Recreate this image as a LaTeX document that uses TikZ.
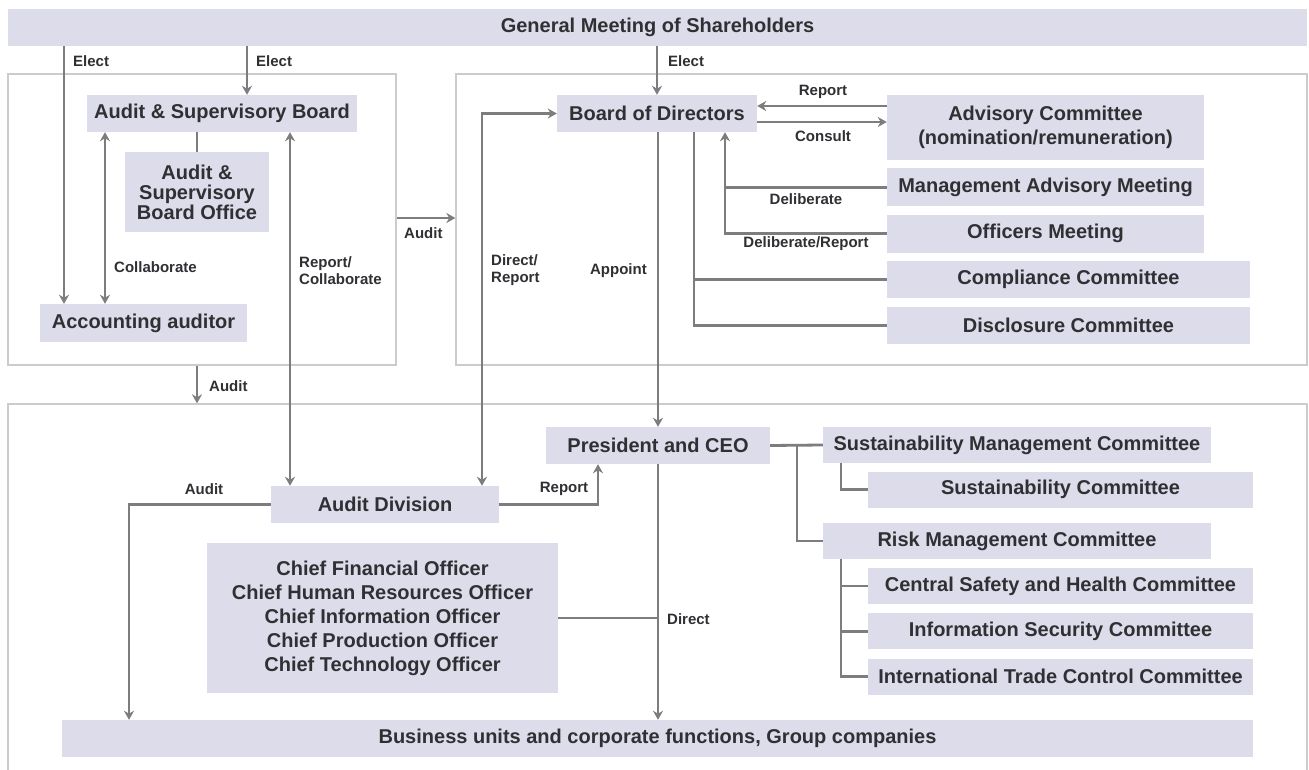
\documentclass[tikz,border=0pt]{standalone}
\usepackage{fontspec}
\setmainfont{Liberation Sans}
\usetikzlibrary{arrows.meta,positioning}

\definecolor{boxfill}{RGB}{221,220,234}
\definecolor{linegrey}{RGB}{125,125,125}
\definecolor{framegrey}{RGB}{204,204,204}
\definecolor{textgrey}{RGB}{48,48,52}

\begin{document}
\begin{tikzpicture}[
        x=1pt, y=-1pt,
        box/.style={rectangle, fill=boxfill, inner sep=0pt, align=center, text=textgrey, font=\fontsize{20}{24}\selectfont\bfseries},
        frame/.style={rectangle, draw=framegrey, line width=1.3pt, inner sep=0pt},
        lbl/.style={inner sep=0pt, align=left, text=textgrey, font=\fontsize{15}{17}\selectfont\bfseries},
        line/.style={draw=linegrey, line width=2.8pt},
        arrow/.style={line, -{Stealth[length=9pt,width=10pt]}},
        darrow/.style={line, {Stealth[length=9pt,width=10pt]}-{Stealth[length=9pt,width=10pt]}}
    ]
        \fill[white] (0,0) rectangle (1309,770);
        \useasboundingbox (0,0) rectangle (1309,770);

        % Frames
        \node[frame, minimum width=388, minimum height=291] (frL) at (202,219.5) {};
        \node[frame, minimum width=851, minimum height=291] (frR) at (881.5,219.5) {};
        \node[frame, minimum width=1299, minimum height=380] (frB) at (657.5,594) {};

        % Shareholders
        \node[box, minimum width=1299, minimum height=37] (gms) at (657.5,27.5) {General Meeting of Shareholders};

        % Audit side
        \node[box, minimum width=270, minimum height=37] (asb) at (222,113.5) {Audit \& Supervisory Board};
        \node[box, minimum width=144, minimum height=80, font=\fontsize{20}{20}\selectfont\bfseries] (off) at (197,192) {Audit \&\\Supervisory\\Board Office};
        \node[box, minimum width=207, minimum height=38] (acc) at (143.5,323) {Accounting auditor};

        % Board side
        \node[box, minimum width=200, minimum height=37] (bod) at (657,113.5) {Board of Directors};
        \node[box, minimum width=317, minimum height=65] (adv) at (1045.5,127.5) {Advisory Committee\\(nomination/remuneration)};
        \node[box, minimum width=317, minimum height=38, below=8pt of adv] (mam) {Management Advisory Meeting};
        \node[box, minimum width=317, minimum height=38, below=8pt of mam] (om) {Officers Meeting};
        \node[box, minimum width=363, minimum height=37, below right=8pt and 0pt of om.south west] (com) {Compliance Committee};
        \node[box, minimum width=363, minimum height=37, below=8pt of com] (dis) {Disclosure Committee};

        % Execution side
        \node[box, minimum width=224, minimum height=37] (pres) at (658,445.5) {President and CEO};
        \node[box, minimum width=228, minimum height=37] (ad) at (385,504.5) {Audit Division};
        \node[box, minimum width=351, minimum height=150] (chf) at (382.5,618) {Chief Financial Officer\\Chief Human Resources Officer\\Chief Information Officer\\Chief Production Officer\\Chief Technology Officer};
        \node[box, minimum width=1191, minimum height=37] (bu) at (657.5,738.5) {Business units and corporate functions, Group companies};

        \node[box, minimum width=388, minimum height=36] (smc) at (1017,445) {Sustainability Management Committee};
        \node[box, minimum width=385, minimum height=36] (sc) at (1060.5,489.5) {Sustainability Committee};
        \node[box, minimum width=388, minimum height=36] (rmc) at (1017,541) {Risk Management Committee};
        \node[box, minimum width=385, minimum height=36] (csh) at (1060.5,586) {Central Safety and Health Committee};
        \node[box, minimum width=385, minimum height=36, below=9pt of csh] (isc) {Information Security Committee};
        \node[box, minimum width=385, minimum height=36, below=9pt of isc] (itc) {International Trade Control Committee};

        % Helper coordinates
        \coordinate (eL) at (64,0);
        \coordinate (eM) at (247,0);
        \coordinate (cL) at (105,0);
        \coordinate (cR) at (290,0);
        \coordinate (aD) at (197,0);
        \coordinate (ya) at (0,218);
        \coordinate (yRep) at (0,106);
        \coordinate (yCon) at (0,122);
        \coordinate (xDel) at (725,0);
        \coordinate (xCD) at (694,0);
        \coordinate (xDR) at (482,0);
        \coordinate (xAu) at (129,0);
        \coordinate (xRp) at (598,0);
        \coordinate (xJ) at (797,0);
        \coordinate (xS) at (841,0);

        % Arrows
        \draw[arrow] (eL |- gms.south) -- (eL |- acc.north);
        \draw[arrow] (eM |- gms.south) -- (eM |- asb.north);
        \draw[arrow] (gms.south -| bod.north) -- (bod.north);
        \draw[line] (asb.south -| off.north) -- (off.north);
        \draw[darrow] (cL |- asb.south) -- (cL |- acc.north);
        \draw[darrow] (cR |- asb.south) -- (cR |- ad.north);
        \draw[arrow] (frL.east |- ya) -- (frR.west |- ya);
        \draw[arrow] (aD |- frL.south) -- (aD |- frB.north);

        \draw[arrow] (adv.west |- yRep) -- (bod.east |- yRep);
        \draw[arrow] (bod.east |- yCon) -- (adv.west |- yCon);
        \draw[line] (mam.west) -- (xDel |- mam.west);
        \draw[arrow] (om.west) -| (xDel |- bod.south);
        \draw[line] (xCD |- bod.south) |- (dis.west);
        \draw[line] (xCD |- com.west) -- (com.west);
        \draw[arrow] (bod.south -| pres.north) -- (pres.north);
        \draw[darrow] (xDR |- ad.north) |- (bod.west);

        \draw[arrow] (ad.west) -| (xAu |- bu.north);
        \draw[arrow] (ad.east) -| (xRp |- pres.south);
        \draw[arrow] (pres.south) -- (pres.south |- bu.north);
        \draw[line] (chf.east) -- (chf.east -| pres.south);
        \draw[line] (pres.east) -- (smc.west);
        \draw[line] (xJ |- pres.east) |- (rmc.west);
        \draw[line] (xS |- smc.south) |- (sc.west);
        \draw[line] (xS |- rmc.south) |- (itc.west);
        \draw[line] (xS |- csh.west) -- (csh.west);
        \draw[line] (xS |- isc.west) -- (isc.west);

        % Labels
        \node[lbl, anchor=west] (lE1) at (73,61) {Elect};
        \node[lbl, anchor=west] (lE2) at (256,61) {Elect};
        \node[lbl, anchor=west] (lE3) at (668,61) {Elect};
        \node[lbl, anchor=west] (lCol) at (114,267) {Collaborate};
        \node[lbl, anchor=west] (lRC) at (299,270.5) {Report/\\Collaborate};
        \node[lbl, anchor=west] (lAu1) at (404,233) {Audit};
        \node[lbl, anchor=west] (lAu2) at (209,386) {Audit};
        \node[lbl] (lRep) at (823,92) {Report};
        \node[lbl] (lCon) at (823,136) {Consult};
        \node[lbl] (lDel) at (806,199) {Deliberate};
        \node[lbl] (lDR) at (806,244) {Deliberate/Report};
        \node[lbl, anchor=west] (lDiR) at (491,270.5) {Direct/\\Report};
        \node[lbl, anchor=east] (lApp) at (647,271) {Appoint};
        \node[lbl] (lAu3) at (204,489) {Audit};
        \node[lbl] (lRp2) at (564,489) {Report};
        \node[lbl, anchor=west] (lDir) at (667,619) {Direct};
    \end{tikzpicture}
\end{document}
